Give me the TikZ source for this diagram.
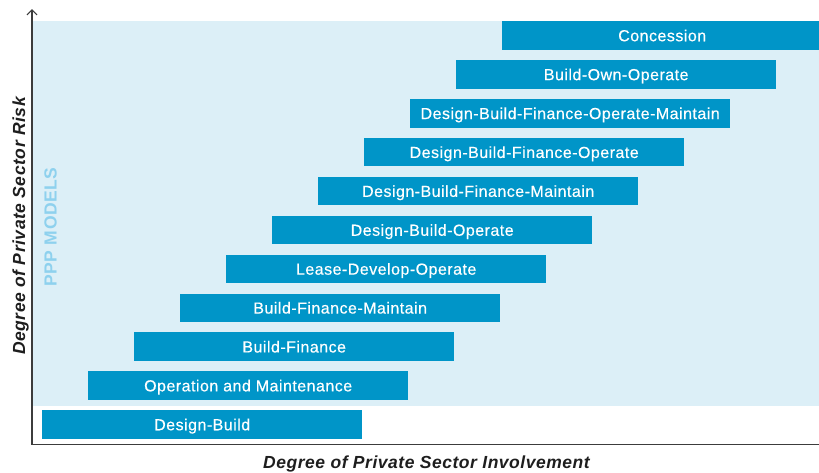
\documentclass[tikz,border=0pt]{standalone}
\usepackage{fontspec}
\setmainfont{Liberation Sans}
\newfontfamily\barfont[LetterSpace=3,FakeBold=0.4]{Liberation Sans}
\newfontfamily\labfont[LetterSpace=3]{Liberation Sans}
\usetikzlibrary{arrows.meta}
\definecolor{barblue}{HTML}{0095C8}
\definecolor{bgblue}{HTML}{DCEFF7}
\definecolor{pppblue}{HTML}{8ED1EE}
\definecolor{axisgray}{HTML}{3C3C3C}
\definecolor{labelblack}{HTML}{1E1E1E}
\tikzset{
  modelbar/.style={fill=barblue, draw=none, minimum width=320pt, minimum height=28.5pt,
    inner sep=0pt, text=white, font=\barfont\fontsize{16}{19}\selectfont,
    text height=11.5pt, text depth=0pt, anchor=west},
  axisline/.style={draw=axisgray, line width=1.2pt, -{Straight Barb[length=5pt,width=10pt]}},
  axislabel/.style={font=\labfont\bfseries\itshape\fontsize{17.5}{20}\selectfont,
    text=labelblack, inner sep=0pt, anchor=base},
  ppplabel/.style={font=\labfont\bfseries\fontsize{17.5}{20}\selectfont,
    text=pppblue, inner sep=0pt, anchor=base},
}
\begin{document}
\begin{tikzpicture}[x=1pt,y=-1pt]
\clip (0,0) rectangle (819,472);
\fill[white] (0,0) rectangle (819,472);
\fill[bgblue] (33,21) rectangle (822,406);
\foreach \i/\nm/\txt in {0/db/Design-Build,
  1/om/Operation and Maintenance,
  2/bf/Build-Finance,
  3/bfm/Build-Finance-Maintain,
  4/ldo/Lease-Develop-Operate,
  5/dbo/Design-Build-Operate,
  6/dbfm/Design-Build-Finance-Maintain,
  7/dbfo/Design-Build-Finance-Operate,
  8/dbfom/Design-Build-Finance-Operate-Maintain,
  9/boo/Build-Own-Operate,
  10/conc/Concession}
  \node[modelbar] (\nm) at ({42+46*\i},{424.5-38.9*\i}) {\txt};
\node[ppplabel, rotate=90] (ppp) at (56.5,227) {PPP MODELS};
\coordinate (origin) at (32,444.5);
\coordinate (ytip) at (32,9);
\coordinate (xtip) at (828,444.5);
\draw[axisline] (origin) -- (ytip);
\draw[axisline] (origin) -- (xtip);
\node[axislabel, rotate=90] (ylab) at (25,226) {Degree of Private Sector Risk};
\node[axislabel] (xlab) at (426.5,468.5) {Degree of Private Sector Involvement};
\end{tikzpicture}
\end{document}
